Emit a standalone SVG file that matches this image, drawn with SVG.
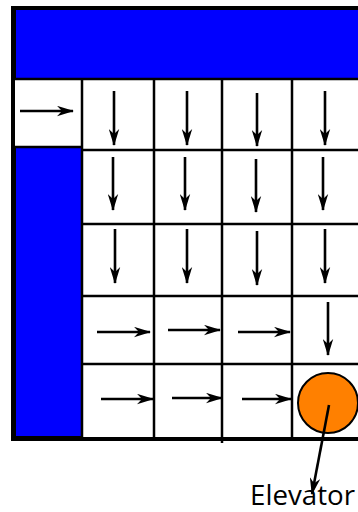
<svg xmlns="http://www.w3.org/2000/svg" width="358" height="512" viewBox="0 0 358 512">
<defs>
<style>
.grid{stroke:#000;stroke-width:2.5;fill:none}
.arr{stroke:#000;stroke-width:2.6;fill:none;marker-end:url(#ah)}
.blue{fill:#0000ff;stroke:#000;stroke-width:2}
</style>
<marker id="ah" viewBox="0 0 17 11" refX="16" refY="5.5" markerWidth="17" markerHeight="11" markerUnits="userSpaceOnUse" orient="auto">
<path d="M0,0.3 L17,5.5 L0,10.7 L5,5.5 Z" fill="#000"/>
</marker>
</defs>
<g id="floor">
<rect x="13" y="8" width="360" height="431" fill="#fff" stroke="#000" stroke-width="4"/>
</g>
<g id="top-block"><rect class="blue" x="15" y="9" width="350" height="70"/></g>
<g id="left-block"><rect class="blue" x="15" y="147" width="67" height="290"/></g>
<g id="grid">
<line class="grid" x1="15" y1="79" x2="358" y2="79"/>
<line class="grid" x1="15" y1="147" x2="82" y2="147"/>
<line class="grid" x1="82" y1="150" x2="358" y2="150"/>
<line class="grid" x1="82" y1="224" x2="358" y2="224"/>
<line class="grid" x1="82" y1="296" x2="358" y2="296"/>
<line class="grid" x1="82" y1="364" x2="358" y2="364"/>
<line class="grid" x1="82" y1="79" x2="82" y2="439"/>
<line class="grid" x1="154" y1="79" x2="154" y2="441"/>
<line class="grid" x1="222" y1="79" x2="222" y2="443"/>
<line class="grid" x1="292" y1="79" x2="292" y2="439"/>
</g>
<g id="connectors">
<line class="arr" x1="20" y1="111" x2="73" y2="111"/>
<line class="arr" x1="114" y1="91" x2="114" y2="145"/>
<line class="arr" x1="187" y1="91" x2="187" y2="145"/>
<line class="arr" x1="257" y1="93" x2="257" y2="146"/>
<line class="arr" x1="325" y1="91" x2="325" y2="145"/>
<line class="arr" x1="113" y1="157" x2="113" y2="210"/>
<line class="arr" x1="185" y1="157" x2="185" y2="210"/>
<line class="arr" x1="256" y1="159" x2="256" y2="212"/>
<line class="arr" x1="323" y1="157" x2="323" y2="210"/>
<line class="arr" x1="115" y1="229" x2="115" y2="283"/>
<line class="arr" x1="187" y1="229" x2="187" y2="283"/>
<line class="arr" x1="257" y1="231" x2="257" y2="285"/>
<line class="arr" x1="325" y1="229" x2="325" y2="283"/>
<line class="arr" x1="97" y1="332" x2="150" y2="332"/>
<line class="arr" x1="168" y1="330" x2="220" y2="330"/>
<line class="arr" x1="238" y1="332" x2="290" y2="332"/>
<line class="arr" x1="328" y1="302" x2="328" y2="355"/>
<line class="arr" x1="101" y1="399" x2="153" y2="399"/>
<line class="arr" x1="172" y1="398" x2="222" y2="398"/>
<line class="arr" x1="242" y1="399" x2="291" y2="399"/>
</g>
<g id="elevator">
<circle cx="328" cy="403" r="30" fill="#ff8000" stroke="#000" stroke-width="2"/>
<line class="arr" x1="329" y1="405" x2="312" y2="494"/>
<text x="250" y="505" font-family="'Open Sans', 'Liberation Sans', sans-serif" font-size="27" textLength="105" lengthAdjust="spacingAndGlyphs" fill="#000">Elevator</text>
</g>
</svg>
